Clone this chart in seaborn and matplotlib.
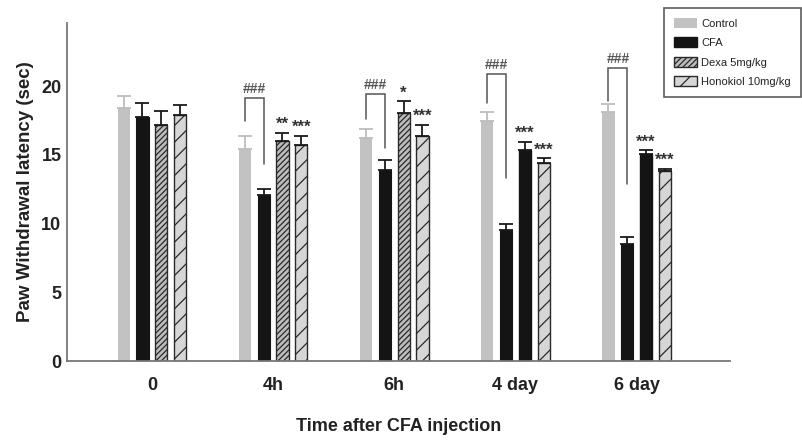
import numpy as np
import pandas as pd
import matplotlib
matplotlib.use("Agg")
import matplotlib.pyplot as plt
from matplotlib.patches import Patch
import seaborn as sns

# Time points and treatment groups
time_points = ["0", "4h", "6h", "4 day", "6 day"]
groups = ["Control", "CFA", "Dexa 5mg/kg", "Honokiol 10mg/kg"]

# Mean paw withdrawal latency (sec) and SEM for each group
control_mean = [18.4, 15.4, 16.2, 17.45, 18.15]
control_sem = [0.9, 1.0, 0.65, 0.65, 0.55]
cfa_mean = [17.75, 12.1, 13.9, 9.55, 8.5]
cfa_sem = [1.05, 0.45, 0.7, 0.45, 0.5]
dexa_mean = [17.2, 16.0, 18.05, 15.35, 15.05]
dexa_sem = [1.0, 0.6, 0.85, 0.6, 0.3]
hono_mean = [17.9, 15.7, 16.4, 14.4, 13.85]
hono_sem = [0.7, 0.7, 0.8, 0.35, 0.15]

# Significance markers
hash_sig = ["", "###", "###", "###", "###"]
dexa_sig = ["", "**", "*", "***", "***"]
hono_sig = ["", "***", "***", "***", "***"]

means = [control_mean, cfa_mean, dexa_mean, hono_mean]
sems = [control_sem, cfa_sem, dexa_sem, hono_sem]

df = pd.DataFrame({
    "time": np.tile(time_points, len(groups)),
    "group": np.repeat(groups, len(time_points)),
    "latency": np.concatenate(means),
})

sns.set_style("white")
plt.rcParams["font.family"] = ["Liberation Sans", "DejaVu Sans"]
plt.rcParams["hatch.linewidth"] = 0.9

fig = plt.figure(figsize=(8.02, 4.40), dpi=100)
ax = fig.add_axes([67 / 802, 1 - 361 / 440, (730 - 67) / 802, (361 - 23) / 440])

palette = {"Control": "#c2c2c2", "CFA": "#141414",
           "Dexa 5mg/kg": "#bdbdbd", "Honokiol 10mg/kg": "#d6d6d6"}

sns.barplot(data=df, x="time", y="latency", hue="group", order=time_points,
            hue_order=groups, palette=palette, saturation=1, errorbar=None,
            width=0.62, gap=0.35, legend=False, ax=ax)

# Styling of each group's bars
bar_style = {
    "Control": dict(edgecolor="none", hatch=None, lw=0),
    "CFA": dict(edgecolor="#141414", hatch=None, lw=0.8),
    "Dexa 5mg/kg": dict(edgecolor="#2a2a2a", hatch="//////", lw=1.0),
    "Honokiol 10mg/kg": dict(edgecolor="#2a2a2a", hatch="//", lw=1.0),
}
dexa_solid = [False, False, False, True, True]

centers = {}
tops = {}
for g, cont, m, s in zip(groups, ax.containers, means, sems):
    st = bar_style[g]
    xs = []
    for i, bar in enumerate(cont):
        bar.set_edgecolor(st["edgecolor"])
        bar.set_linewidth(st["lw"])
        if st["hatch"]:
            bar.set_hatch(st["hatch"])
        if g == "Dexa 5mg/kg" and dexa_solid[i]:
            bar.set_hatch(None)
            bar.set_facecolor("#141414")
            bar.set_edgecolor("#141414")
        xs.append(bar.get_x() + bar.get_width() / 2)
    xs = np.array(xs)
    centers[g] = xs
    tops[g] = np.array(m) + np.array(s)
    ecol = "#bdbdbd" if g == "Control" else "#1a1a1a"
    ax.errorbar(xs, m, yerr=[np.zeros(len(s)), s], fmt="none",
                ecolor=ecol, elinewidth=1.3, capsize=5, capthick=1.3, zorder=3)

# Brackets between Control and CFA
bracket_top = [0, 19.15, 19.4, 20.9, 21.3]
left_bottom = [0, 17.5, 17.6, 18.8, 18.9]
right_bottom = [0, 14.35, 15.5, 13.35, 12.9]
for i, lab in enumerate(hash_sig):
    if not lab:
        continue
    x0 = centers["Control"][i]
    x1 = centers["CFA"][i]
    ax.plot([x0, x0, x1, x1], [left_bottom[i], bracket_top[i], bracket_top[i], right_bottom[i]],
            color="#555555", lw=1.1, solid_joinstyle="miter")
    ax.text((x0 + x1) / 2, bracket_top[i] + 0.15, lab, ha="center", va="bottom",
            fontsize=10, color="#555555", fontweight="bold")

# Star markers over the treated groups
for g, sig in [("Dexa 5mg/kg", dexa_sig), ("Honokiol 10mg/kg", hono_sig)]:
    for i, lab in enumerate(sig):
        if not lab:
            continue
        ax.text(centers[g][i], tops[g][i] + 0.05, lab, ha="center", va="bottom",
                fontsize=12, color="#333333", fontweight="bold")

ax.set_ylim(0, 24.6)
ax.set_xlim(-0.70, 4.77)
ax.set_yticks([0, 5, 10, 15, 20])
ax.set_yticklabels(["0", "5", "10", "15", "20"])
ax.tick_params(axis="both", which="major", length=2.5, width=1.0, color="#777777",
               labelsize=13, pad=1.5, direction="out")
ax.tick_params(axis="x", pad=9)
for lab in ax.get_xticklabels() + ax.get_yticklabels():
    lab.set_fontweight("bold")
    lab.set_color("#222222")

for side in ["top", "right"]:
    ax.spines[side].set_visible(False)
for side in ["left", "bottom"]:
    ax.spines[side].set_color("#777777")
    ax.spines[side].set_linewidth(1.3)

ax.set_ylabel("Paw Withdrawal latency (sec)", fontsize=13.5, fontweight="bold",
              color="#222222", labelpad=5)
ax.set_xlabel("Time after CFA injection", fontsize=13, fontweight="bold",
              color="#222222", labelpad=17)

handles = [
    Patch(facecolor=palette["Control"], edgecolor="none"),
    Patch(facecolor=palette["CFA"], edgecolor=palette["CFA"]),
    Patch(facecolor=palette["Dexa 5mg/kg"], edgecolor="#2a2a2a", hatch="//////"),
    Patch(facecolor=palette["Honokiol 10mg/kg"], edgecolor="#2a2a2a", hatch="//"),
]
leg = fig.legend(handles, groups, loc="upper left",
                 bbox_to_anchor=(664 / 802, 1 - 8 / 440), fontsize=8,
                 frameon=True, fancybox=False, edgecolor="#333333",
                 handlelength=2.1, handleheight=1.0, handletextpad=0.35,
                 labelspacing=0.78, borderpad=0.9, borderaxespad=0)
leg.get_frame().set_linewidth(1.2)
for t in leg.get_texts():
    t.set_color("#222222")

fig.savefig("out.png", dpi=100)
